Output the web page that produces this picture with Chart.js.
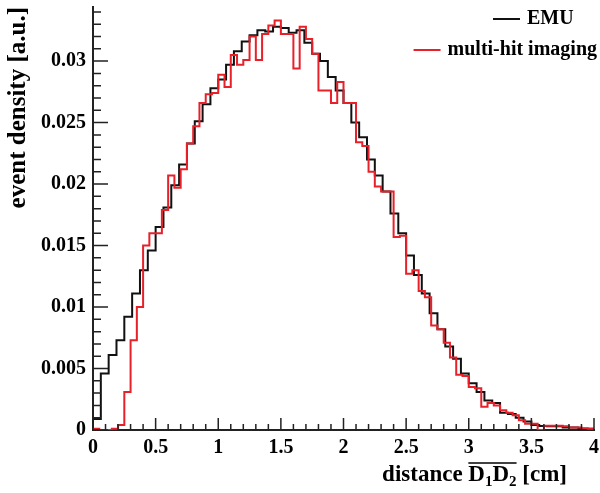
<!DOCTYPE html>
<html>
<head>
<meta charset="utf-8">
<script src="https://cdn.jsdelivr.net/npm/chart.js@4.4.0/dist/chart.umd.min.js"></script>
<style>
  html, body { margin: 0; padding: 0; background: #fff; }
  #wrap { width: 600px; height: 493px; }
</style>
</head>
<body>
<div id="wrap"><canvas id="distChart"></canvas></div>
<script>
// EMU: 64 bins from 0 to 4 cm
const emuBinWidth = 0.0625;
const emuDensity = [
  0.0009, 0.0046, 0.0061, 0.0073, 0.0092, 0.0111, 0.0130, 0.0146,
  0.0165, 0.0181, 0.0199, 0.0216, 0.0233, 0.0251, 0.0265, 0.0278,
  0.0285, 0.0297, 0.0308, 0.0316, 0.0321, 0.0325, 0.0324, 0.0328,
  0.0327, 0.0323, 0.0325, 0.0315, 0.0306, 0.0300, 0.0287, 0.0276,
  0.0266, 0.0250, 0.0238, 0.0220, 0.0207, 0.0194, 0.0176, 0.0160,
  0.0142, 0.0126, 0.0111, 0.0095, 0.0082, 0.0068, 0.0058, 0.0046,
  0.0038, 0.0031, 0.0024, 0.0022, 0.0014, 0.0013, 0.0010, 0.0007,
  0.0004, 0.00033, 0.0003, 0.0003, 0.0002, 0.0002, 0.0001, 0.0001
];

// multi-hit imaging: 80 bins from 0 to 4 cm
const mhiBinWidth = 0.05;
const mhiDensity = [
  0.0001, 0, 0, 0.0001, 0.0004, 0.0031, 0.0073, 0.0100, 0.0150, 0.0160,
  0.0160, 0.0179, 0.0207, 0.0197, 0.0212, 0.0233, 0.0247, 0.0266, 0.0273, 0.0274,
  0.0289, 0.0279, 0.0305, 0.0297, 0.0301, 0.0320, 0.0301, 0.0322, 0.0329, 0.0333,
  0.0322, 0.0322, 0.0294, 0.0328, 0.0318, 0.0306, 0.0276, 0.0276, 0.0266, 0.0283,
  0.0266, 0.0266, 0.0234, 0.0231, 0.0210, 0.0198, 0.0194, 0.0194, 0.0157, 0.0158,
  0.0127, 0.0130, 0.0113, 0.0108, 0.0085, 0.0082, 0.0071, 0.0059, 0.0045, 0.0044,
  0.0035, 0.0034, 0.0019, 0.0022, 0.0020, 0.0016, 0.0014, 0.0012, 0.0008, 0.0005,
  0.0005, 0, 0.00035, 0.00035, 0.00035, 0.0003, 0.0002, 0.0002, 0.00015, 0.0001
];

const seriesLabels = ['EMU', 'multi-hit imaging'];
const seriesColors = ['#111111', '#e8202a'];
const xTicks = [0, 0.5, 1, 1.5, 2, 2.5, 3, 3.5, 4];
const yTicks = [0, 0.005, 0.01, 0.015, 0.02, 0.025, 0.03];

const serif = "'Liberation Serif', 'Times New Roman', serif";

// bin left edges + closing point at the right edge
function histPoints(values, width) {
  const pts = values.map((v, i) => ({ x: i * width, y: v }));
  pts.push({ x: values.length * width, y: values[values.length - 1] });
  return pts;
}

// ROOT style ticks pointing into the plot
const innerTicks = {
  id: 'innerTicks',
  afterDraw(chart) {
    const { ctx, chartArea: a, scales: { x, y } } = chart;
    ctx.save();
    ctx.strokeStyle = '#222';
    ctx.lineWidth = 1.5;
    ctx.beginPath();
    for (let i = 0; i <= 40; i++) {
      const px = x.getPixelForValue(i * 0.1);
      const len = i % 5 === 0 ? 12 : 6;
      ctx.moveTo(px, a.bottom);
      ctx.lineTo(px, a.bottom - len);
    }
    for (let i = 0; i <= 34; i++) {
      const py = y.getPixelForValue(i * 0.001);
      const len = i % 5 === 0 ? 15 : 8;
      ctx.moveTo(a.left, py);
      ctx.lineTo(a.left + len, py);
    }
    ctx.stroke();
    ctx.restore();
  }
};

// legend in the top right corner of the plot
const cornerLegend = {
  id: 'cornerLegend',
  afterDraw(chart) {
    const { ctx } = chart;
    ctx.save();
    ctx.font = 'bold 20px ' + serif;
    ctx.textBaseline = 'middle';
    ctx.textAlign = 'left';
    const rowsY = [19, 50];
    chart.data.datasets.forEach((ds, i) => {
      const w = ctx.measureText(ds.label).width;
      // first row starts at a fixed spot, second row ends at the right edge
      const textX = i === 0 ? 527 : 597 - w;
      ctx.fillStyle = '#000';
      ctx.fillText(ds.label, textX, rowsY[i]);
      ctx.strokeStyle = ds.borderColor;
      ctx.lineWidth = 2;
      ctx.beginPath();
      ctx.moveTo(textX - 34, rowsY[i]);
      ctx.lineTo(textX - 7, rowsY[i]);
      ctx.stroke();
    });
    ctx.restore();
  }
};

// x title with overline and subscripts: distance D1D2 [cm]
const xTitle = {
  id: 'xTitle',
  afterDraw(chart) {
    const { ctx } = chart;
    const big = 'bold 23px ' + serif;
    const small = 'bold 15px ' + serif;
    const parts = [
      ['distance ', big, 0], ['D', big, 0], ['1', small, 5],
      ['D', big, 0], ['2', small, 5], [' [cm]', big, 0]
    ];
    ctx.save();
    ctx.fillStyle = '#000';
    ctx.textBaseline = 'alphabetic';
    let total = 0;
    const widths = parts.map(p => { ctx.font = p[1]; const w = ctx.measureText(p[0]).width; total += w; return w; });
    let x = 567 - total;
    const base = 481;
    let olStart = 0, olEnd = 0;
    parts.forEach((p, i) => {
      ctx.font = p[1];
      if (i === 1) olStart = x;
      ctx.fillText(p[0], x, base + p[2]);
      x += widths[i];
      if (i === 4) olEnd = x;
    });
    ctx.strokeStyle = '#000';
    ctx.lineWidth = 1.5;
    ctx.beginPath();
    ctx.moveTo(olStart, base - 18);
    ctx.lineTo(olEnd, base - 18);
    ctx.stroke();
    ctx.restore();
  }
};

new Chart(document.getElementById('distChart'), {
  type: 'line',
  data: {
    datasets: [{
      label: seriesLabels[0],
      data: histPoints(emuDensity, emuBinWidth),
      borderColor: seriesColors[0],
      borderWidth: 2,
      stepped: 'before',
      pointRadius: 0,
      fill: false,
      order: 1
    }, {
      label: seriesLabels[1],
      data: histPoints(mhiDensity, mhiBinWidth),
      borderColor: seriesColors[1],
      borderWidth: 2,
      stepped: 'before',
      pointRadius: 0,
      fill: false,
      order: 0
    }]
  },
  options: {
    responsive: true,
    maintainAspectRatio: false,
    animation: false,
    layout: { padding: { top: 7, right: 6, left: 0, bottom: 0 } },
    plugins: { legend: { display: false }, tooltip: { enabled: false } },
    scales: {
      x: {
        type: 'linear',
        min: 0,
        max: 4,
        afterBuildTicks: s => { s.ticks = xTicks.map(v => ({ value: v })); },
        afterFit: s => { s.height = 63; s.paddingLeft = 0; s.paddingRight = 0; },
        grid: { display: false, drawTicks: false },
        border: { display: true, color: '#222', width: 2 },
        ticks: {
          color: '#000',
          padding: 6,
          maxRotation: 0,
          font: { family: serif, size: 20, weight: 'bold' },
          callback: v => String(v)
        }
      },
      y: {
        min: 0,
        max: 0.0344,
        afterBuildTicks: s => { s.ticks = yTicks.map(v => ({ value: v })); },
        afterFit: s => { s.width = 93; s.paddingTop = 0; s.paddingBottom = 0; },
        grid: { display: false, drawTicks: false },
        border: { display: true, color: '#222', width: 2 },
        ticks: {
          color: '#000',
          padding: 7,
          font: { family: serif, size: 20, weight: 'bold' },
          callback: v => String(v)
        },
        title: {
          display: true,
          text: 'event density [a.u.]',
          align: 'end',
          color: '#000',
          padding: { top: 4 },
          font: { family: serif, size: 25, weight: 'bold' }
        }
      }
    }
  },
  plugins: [innerTicks, cornerLegend, xTitle]
});
</script>
</body>
</html>
